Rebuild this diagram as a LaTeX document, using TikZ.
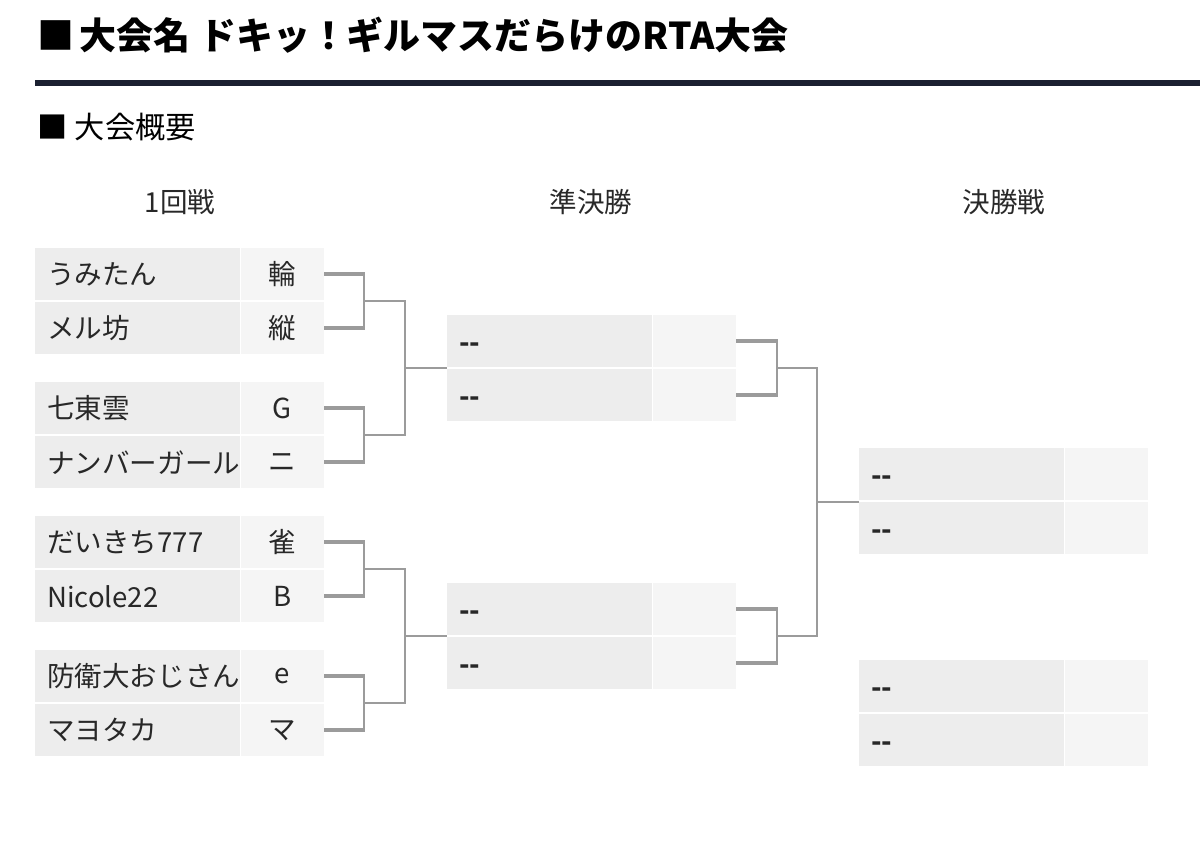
\documentclass[tikz,border=0pt]{standalone}
\usepackage{fontspec}
\setmainfont{Noto Sans CJK JP}
\usetikzlibrary{calc}
\definecolor{cellname}{RGB}{237,237,237}
\definecolor{cellscore}{RGB}{245,245,245}
\definecolor{wire}{RGB}{155,155,155}
\definecolor{ink}{RGB}{40,40,40}
\definecolor{navy}{RGB}{27,32,49}
\newcommand\titlefont{\fontsize{26.3}{30}\selectfont\bfseries}
\newcommand\subfont{\fontsize{21.5}{24}\selectfont}
\newcommand\cellfont{\fontsize{19.6}{22}\selectfont}
\newcommand\nodash{\strut\raisebox{-1.3mm}[0pt][0pt]{\bfseries -{}-}}

\begin{document}
\begin{tikzpicture}[x=0.25mm,y=-0.25mm,
  namecell/.style={fill=cellname,text=ink,anchor=north west,minimum height=13mm,text width=45.25mm,inner xsep=3mm,inner ysep=0pt,align=left,font=\cellfont},
  scorecell/.style={fill=cellscore,text=ink,anchor=west,minimum height=13mm,minimum width=20.75mm,inner sep=0pt,font=\cellfont},
  head/.style={font=\cellfont,text=ink},
  stub/.style={draw=wire,line width=1mm},
  bar/.style={draw=wire,line width=0.65mm},
  link/.style={draw=wire,line width=0.5mm}]
\useasboundingbox (0,0) rectangle (1200,842);
\node[anchor=west,font=\titlefont] (title) at (33,35) {■\hspace{1.2mm}大会名 ドキッ！ギルマスだらけのRTA大会};
\draw[navy,line width=1.5mm] (35,83) -- (1200,83);
\node[anchor=west,font=\subfont] (overview) at (33,127) {■ 大会概要};
\node[head] (h1) at (180,202) {1回戦};
\node[head] (h2) at (591,202) {準決勝};
\node[head] (h3) at (1004,202) {決勝戦};
\foreach \i/\y/\nm/\sc in {1/248/うみたん/輪,2/302/メル坊/縦,3/382/七東雲/G,4/436/ナンバーガール/ニ,
  5/516/だいきち777/雀,6/570/Nicole22/B,7/650/防衛大おじさん/e,8/704/マヨタカ/マ} {
  \node[namecell] (n\i) at (35,\y) {\nm};
  \node[scorecell] (s\i) at (n\i.east) {\sc};
}
\foreach \id/\x/\y in {sa1/447/315,sa2/447/369,sb1/447/583,sb2/447/637,
  fa1/859/448,fa2/859/502,ga1/859/660,ga2/859/714} {
  \node[namecell] (\id) at (\x,\y) {\nodash};
  \node[scorecell] (x\id) at (\id.east) {};
}
\coordinate (r1) at (364,0);
\coordinate (r2) at (405,0);
\coordinate (r3) at (777,0);
\coordinate (r4) at (817,0);
\foreach \a/\b/\m in {s1/s2/p,s3/s4/q,s5/s6/u,s7/s8/v} {
  \draw[stub] (\a.east) -- ($(\a.east -| r1)+(1,0)$);
  \draw[stub] (\b.east) -- ($(\b.east -| r1)+(1,0)$);
  \draw[bar] (\a.east -| r1) -- (\b.east -| r1);
  \coordinate (\m) at ($(\a.east -| r1)!0.5!(\b.east -| r1)$);
}
\foreach \a/\b/\m in {xsa1/xsa2/w,xsb1/xsb2/z} {
  \draw[stub] (\a.east) -- ($(\a.east -| r3)+(1,0)$);
  \draw[stub] (\b.east) -- ($(\b.east -| r3)+(1,0)$);
  \draw[bar] (\a.east -| r3) -- (\b.east -| r3);
  \coordinate (\m) at ($(\a.east -| r3)!0.5!(\b.east -| r3)$);
}
\draw[link] (p) -- (p -| r2) -- (q -| r2) -- (q);
\draw[link] (u) -- (u -| r2) -- (v -| r2) -- (v);
\draw[link] (w) -- (w -| r4) -- (z -| r4) -- (z);
\coordinate (pq) at ($(p -| r2)!0.5!(q -| r2)$);
\coordinate (uv) at ($(u -| r2)!0.5!(v -| r2)$);
\coordinate (wz) at ($(w -| r4)!0.5!(z -| r4)$);
\draw[link] (pq) -- (pq -| sa1.west);
\draw[link] (uv) -- (uv -| sb1.west);
\draw[link] (wz) -- (wz -| fa1.west);
\end{tikzpicture}
\end{document}
